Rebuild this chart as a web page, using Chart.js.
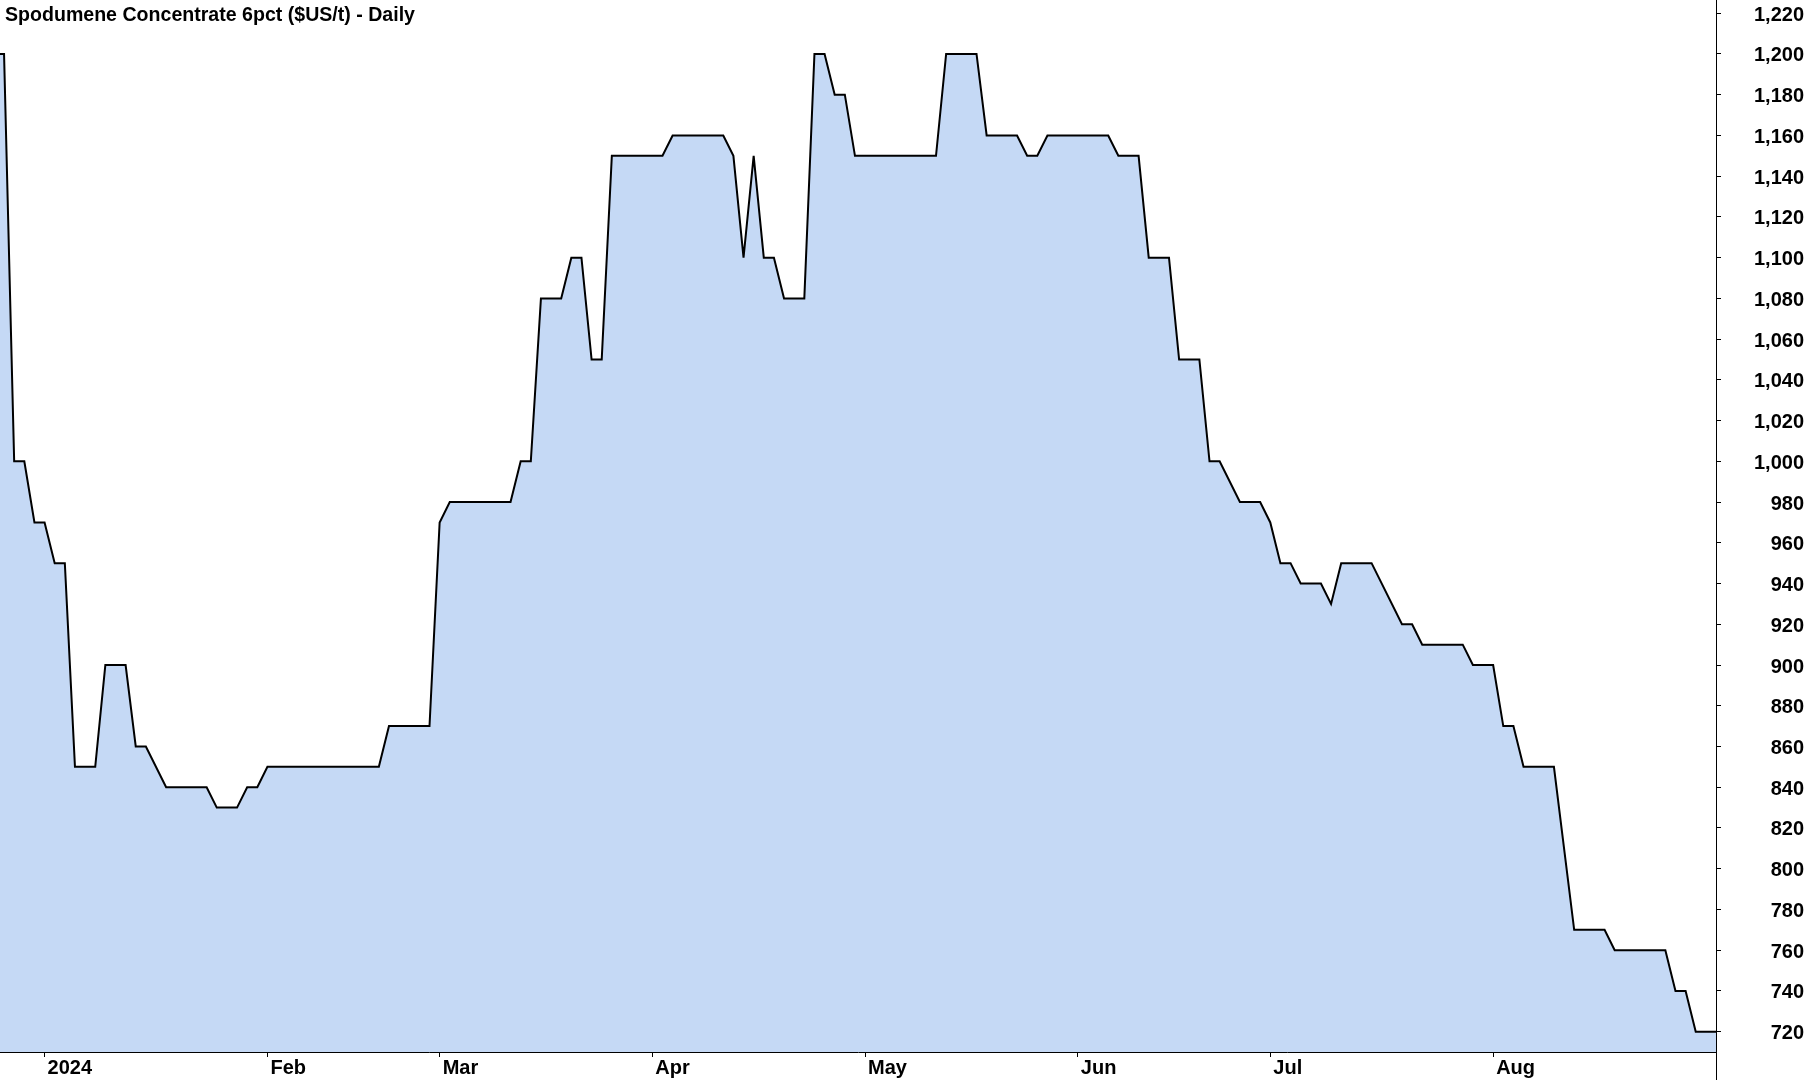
<!DOCTYPE html>
<html>
<head>
<meta charset="utf-8">
<title>Spodumene Concentrate 6pct</title>
<script src="https://cdn.jsdelivr.net/npm/chart.js@4.4.1/dist/chart.umd.min.js"></script>
<style>
    body { margin: 0; background: #fff; }
    #wrap { width: 1809px; height: 1080px; }
</style>
</head>
<body>
<div id="wrap"><canvas id="priceChart" width="1809" height="1080"></canvas></div>
<script>
// trading-day index (first visible point = 0) where the price changes, and the price on that day
var dayIndex = [-1, 0, 1, 2, 3, 4, 5, 6, 7, 9, 10, 12, 13, 14, 16, 20, 21, 23, 24, 25, 26,
    37, 38, 42, 43, 44, 50, 51, 52, 53, 55, 56, 57, 58, 59, 60, 65, 66, 71, 72, 73,
    74, 75, 76, 77, 79, 80, 81, 82, 83, 84, 92, 93, 96, 97, 100, 101, 102, 103, 109, 110,
    112, 113, 115, 116, 118, 119, 120, 122, 124, 125, 126, 127, 128, 130, 131, 132, 135, 138, 139, 140,
    144, 145, 147, 148, 149, 150, 153, 155, 158, 159, 164, 165, 166, 167, 169];
var price = [1200, 1200, 1000, 1000, 970, 970, 950, 950, 850, 850, 900, 900, 860, 860, 840, 840, 830, 830, 840, 840, 850,
    850, 870, 870, 970, 980, 980, 1000, 1000, 1080, 1080, 1100, 1100, 1050, 1050, 1150, 1150, 1160, 1160, 1150, 1100,
    1150, 1100, 1100, 1080, 1080, 1200, 1200, 1180, 1180, 1150, 1150, 1200, 1200, 1160, 1160, 1150, 1150, 1160, 1160, 1150,
    1150, 1100, 1100, 1050, 1050, 1000, 1000, 980, 980, 970, 950, 950, 940, 940, 930, 950, 950, 920, 920, 910,
    910, 900, 900, 870, 870, 850, 850, 770, 770, 760, 760, 740, 740, 720, 720];

// month starts on the same trading-day index
var monthIndex = [4, 26, 43, 64, 85, 106, 125, 147];
var monthLabels = ['2024', 'Feb', 'Mar', 'Apr', 'May', 'Jun', 'Jul', 'Aug'];

var yTickValues = [720, 740, 760, 780, 800, 820, 840, 860, 880, 900, 920, 940, 960, 980,
    1000, 1020, 1040, 1060, 1080, 1100, 1120, 1140, 1160, 1180, 1200, 1220];

var chartTitle = 'Spodumene Concentrate 6pct ($US/t) - Daily';

var points = dayIndex.map(function (d, i) {
    return { x: d, y: price[i] };
});

var frame = {
    id: 'frame',
    afterDraw: function (chart) {
        var ctx = chart.ctx;
        var area = chart.chartArea;
        ctx.save();
        // right axis runs the full height of the picture
        ctx.strokeStyle = '#000';
        ctx.lineWidth = 1;
        var x = Math.round(area.right) + 0.5;
        ctx.beginPath();
        ctx.moveTo(x, 0);
        ctx.lineTo(x, chart.height);
        ctx.stroke();

        // title, squeezed a little like the original
        ctx.font = 'bold 21px "Liberation Sans", Arial, sans-serif';
        ctx.fillStyle = '#000';
        ctx.textBaseline = 'alphabetic';
        var w = ctx.measureText(chartTitle).width;
        ctx.translate(5, 21);
        ctx.scale(410 / w, 1);
        ctx.fillText(chartTitle, 0, 0);
        ctx.restore();
    }
};

// keep the plot area flush with the picture edges
function noPadding(scale) {
    scale.paddingTop = 0;
    scale.paddingBottom = 0;
    scale.paddingLeft = 0;
    scale.paddingRight = 0;
}

var ctx = document.getElementById('priceChart').getContext('2d');

new Chart(ctx, {
    type: 'line',
    data: {
        datasets: [{
            data: points,
            borderColor: '#000',
            borderWidth: 2,
            backgroundColor: 'rgb(197, 217, 245)',
            fill: 'start',
            pointRadius: 0,
            tension: 0
        }]
    },
    options: {
        responsive: false,
        devicePixelRatio: 1,
        animation: false,
        layout: { padding: { top: 0, left: 0, bottom: 0, right: 5 } },
        plugins: {
            legend: { display: false },
            tooltip: { enabled: false }
        },
        scales: {
            x: {
                type: 'linear',
                position: 'bottom',
                min: -0.4,
                max: 169,
                afterBuildTicks: function (scale) {
                    scale.ticks = monthIndex.map(function (v) { return { value: v }; });
                },
                afterFit: function (scale) {
                    scale.height = 28;
                    noPadding(scale);
                },
                grid: {
                    drawOnChartArea: false,
                    drawTicks: true,
                    tickLength: 5,
                    color: '#000',
                    lineWidth: 1
                },
                border: { display: true, color: '#000', width: 1 },
                ticks: {
                    autoSkip: false,
                    maxRotation: 0,
                    align: 'start',
                    labelOffset: 3,
                    padding: -1,
                    color: '#000',
                    font: { family: '"Liberation Sans", Arial, sans-serif', size: 20, weight: 'bold' },
                    callback: function (value) {
                        var i = monthIndex.indexOf(value);
                        return i >= 0 ? monthLabels[i] : '';
                    }
                }
            },
            y: {
                position: 'right',
                min: 710,
                max: 1226.5,
                afterBuildTicks: function (scale) {
                    scale.ticks = yTickValues.map(function (v) { return { value: v }; });
                },
                afterFit: function (scale) {
                    scale.width = 88;
                    noPadding(scale);
                },
                grid: {
                    drawOnChartArea: false,
                    drawTicks: true,
                    tickLength: 5,
                    color: '#000',
                    lineWidth: 1
                },
                border: { display: false },
                ticks: {
                    crossAlign: 'far',
                    padding: 10,
                    labelOffset: 2,
                    color: '#000',
                    font: { family: '"Liberation Sans", Arial, sans-serif', size: 20, weight: 'bold' },
                    callback: function (value) {
                        return value.toLocaleString('en-US');
                    }
                }
            }
        }
    },
    plugins: [frame]
});
</script>
</body>
</html>
